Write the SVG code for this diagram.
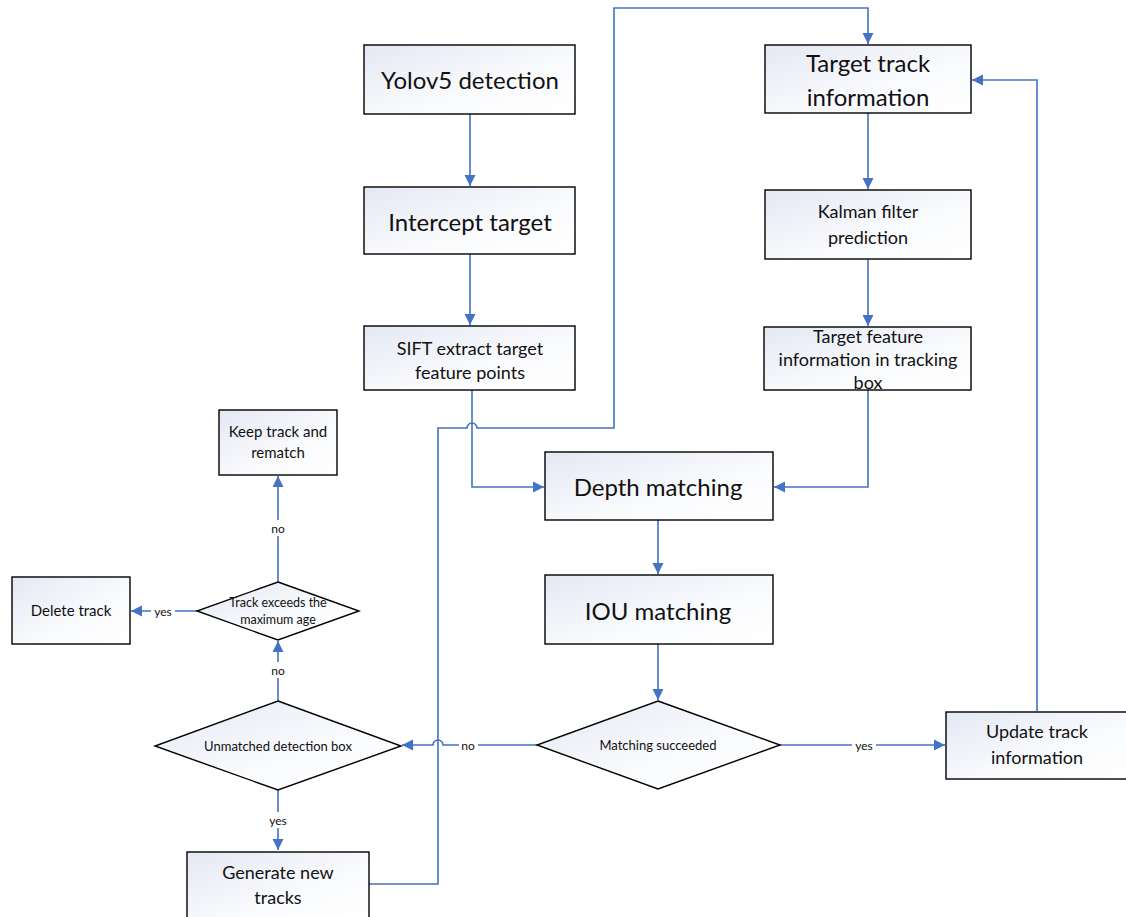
<svg xmlns="http://www.w3.org/2000/svg" width="1126" height="917" viewBox="0 0 1126 917">
<defs>
<linearGradient id="g" x1="0" y1="0" x2="1" y2="1">
<stop offset="0" stop-color="#E4E8F4"/>
<stop offset="0.6" stop-color="#FAFBFD"/>
<stop offset="1" stop-color="#FFFFFF"/>
</linearGradient>
<marker id="ah" markerWidth="12" markerHeight="12" refX="11" refY="6" orient="auto" markerUnits="userSpaceOnUse">
<path d="M0,0.5 L11,6 L0,11.5 Z" fill="#4472C4"/>
</marker>
<style>
.n{fill:url(#g);stroke:#000;stroke-width:1.4}
.c{fill:none;stroke:#4472C4;stroke-width:1.6}
.a{marker-end:url(#ah)}
text{font-family:Lato,"Liberation Sans",sans-serif;fill:#111;text-anchor:middle;dominant-baseline:central}
.t24{font-size:24px}
.t18{font-size:18px}
.t15{font-size:15px}
.t13{font-size:13px}
.t12{font-size:12px}
.bg{fill:#fff}
</style>
</defs>
<g id="connectors">
<path class="c a" d="M470,114 L470,186"/>
<path class="c a" d="M470,254 L470,325"/>
<path class="c a" d="M472,390 L472,487 L544,487"/>
<path class="c a" d="M369,884 L438,884 L438,428 L467,428 A5,5 0 0 1 477,428 L614,428 L614,8 L868,8 L868,44"/>
<path class="c a" d="M868,113 L868,189"/>
<path class="c a" d="M868,259 L868,326"/>
<path class="c a" d="M868,390 L868,487 L774,487"/>
<path class="c a" d="M658,520 L658,574"/>
<path class="c a" d="M658,644 L658,700"/>
<path class="c a" d="M780,745 L945,745"/>
<path class="c a" d="M537,745 L443,745 A5,5 0 0 0 433,745 L402,745"/>
<path class="c a" d="M278,790 L278,850"/>
<path class="c a" d="M278,701 L278,641"/>
<path class="c a" d="M278,582 L278,476"/>
<path class="c a" d="M197,611 L131,611"/>
<path class="c a" d="M1037,711 L1037,80 L972,80"/>
<rect class="bg" x="852" y="737" width="24" height="16"/>
<text class="t12" x="864" y="745">yes</text>
<rect class="bg" x="459" y="737" width="19" height="16"/>
<text class="t12" x="468" y="745">no</text>
<rect class="bg" x="266" y="812" width="24" height="16"/>
<text class="t12" x="278" y="820">yes</text>
<rect class="bg" x="268" y="662" width="20" height="16"/>
<text class="t12" x="278" y="670">no</text>
<rect class="bg" x="268" y="520" width="20" height="16"/>
<text class="t12" x="278" y="528">no</text>
<rect class="bg" x="151" y="603" width="24" height="16"/>
<text class="t12" x="163" y="611">yes</text>
</g>
<g id="yolo">
<rect class="n" x="364" y="45" width="211" height="69"/>
<text class="t24" x="470" y="79">Yolov5 detection</text>
</g>
<g id="intercept">
<rect class="n" x="364" y="187" width="211" height="67"/>
<text class="t24" x="470" y="221">Intercept target</text>
</g>
<g id="sift">
<rect class="n" x="364" y="326" width="211" height="64"/>
<text class="t18" x="470" y="348">SIFT extract target</text>
<text class="t18" x="470" y="372">feature points</text>
</g>
<g id="target-track">
<rect class="n" x="765" y="45" width="206" height="68"/>
<text class="t24" x="868" y="62">Target track</text>
<text class="t24" x="868" y="96">information</text>
</g>
<g id="kalman">
<rect class="n" x="765" y="190" width="206" height="69"/>
<text class="t18" x="868" y="211">Kalman filter</text>
<text class="t18" x="868" y="237">prediction</text>
</g>
<g id="target-feature">
<rect class="n" x="764" y="327" width="207" height="63"/>
<text class="t18" x="868" y="336">Target feature</text>
<text class="t18" x="868" y="359">information in tracking</text>
<text class="t18" x="868" y="382">box</text>
</g>
<g id="depth">
<rect class="n" x="545" y="452" width="228" height="68"/>
<text class="t24" x="658" y="486">Depth matching</text>
</g>
<g id="iou">
<rect class="n" x="545" y="575" width="228" height="69"/>
<text class="t24" x="658" y="610">IOU matching</text>
</g>
<g id="matching">
<polygon class="n" points="658,701 780,745 658,789 537,745"/>
<text class="t13" x="658" y="745">Matching succeeded</text>
</g>
<g id="update">
<rect class="n" x="946" y="712" width="182" height="67"/>
<text class="t18" x="1037" y="731">Update track</text>
<text class="t18" x="1037" y="757">information</text>
</g>
<g id="unmatched">
<polygon class="n" points="278,701 401,746 278,790 155,746"/>
<text class="t13" x="278" y="746">Unmatched detection box</text>
</g>
<g id="exceeds">
<polygon class="n" points="278,582 359,611 278,640 197,611"/>
<text class="t12" x="278" y="602" style="font-size:12.5px">Track exceeds the</text>
<text class="t12" x="278" y="619" style="font-size:12.5px">maximum age</text>
</g>
<g id="delete">
<rect class="n" x="12" y="577" width="118" height="67"/>
<text class="t15" x="71" y="610">Delete track</text>
</g>
<g id="keep">
<rect class="n" x="219" y="410" width="118" height="65"/>
<text class="t15" x="278" y="431">Keep track and</text>
<text class="t15" x="278" y="452">rematch</text>
</g>
<g id="generate">
<rect class="n" x="187" y="852" width="182" height="70"/>
<text class="t18" x="278" y="872">Generate new</text>
<text class="t18" x="278" y="897">tracks</text>
</g>
</svg>
